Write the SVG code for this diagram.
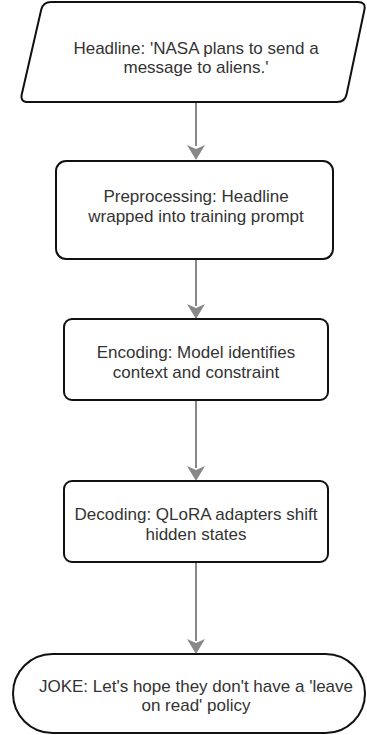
<svg xmlns="http://www.w3.org/2000/svg" width="367" height="735" viewBox="0 0 367 735">
<defs>
<style>
.node{fill:#fff;stroke:#111;stroke-width:2}
.lbl{font-family:"Liberation Sans",Arial,sans-serif;font-size:17px;fill:#333;text-anchor:middle}
.edge{stroke:#888;stroke-width:2;fill:none}
.head{fill:#888}
</style>
</defs>
<rect width="367" height="735" fill="#fff"/>
<g id="connectors">
<path class="edge" d="M196,103 L196,146"/>
<polygon class="head" points="187,145 196,160 205,145 196,149"/>
<path class="edge" d="M196,260 L196,306"/>
<polygon class="head" points="187,304 196,319 205,304 196,308"/>
<path class="edge" d="M196,401 L196,468"/>
<polygon class="head" points="187,466 196,481 205,466 196,470"/>
<path class="edge" d="M196,563 L196,641"/>
<polygon class="head" points="187,639 196,654 205,639 196,643"/>
</g>
<g id="headline">
<path class="node" d="M51,2 L358,2 Q366,2 364.4,9.8 L346.6,94.2 Q345,102 337,102 L28,102 Q20,102 21.8,94.2 L41.2,9.8 Q43,2 51,2 Z"/>
<text class="lbl" x="196" y="54">Headline: 'NASA plans to send a</text>
<text class="lbl" x="196" y="73">message to aliens.'</text>
</g>
<g id="preprocessing">
<rect class="node" x="56" y="161" width="277" height="98" rx="10"/>
<text class="lbl" x="196" y="202">Preprocessing: Headline</text>
<text class="lbl" x="196" y="222">wrapped into training prompt</text>
</g>
<g id="encoding">
<rect class="node" x="64" y="319" width="264" height="81" rx="8"/>
<text class="lbl" x="196" y="358">Encoding: Model identifies</text>
<text class="lbl" x="196" y="378">context and constraint</text>
</g>
<g id="decoding">
<rect class="node" x="64" y="481" width="264" height="81" rx="8"/>
<text class="lbl" x="196" y="520">Decoding: QLoRA adapters shift</text>
<text class="lbl" x="196" y="540">hidden states</text>
</g>
<g id="joke">
<rect class="node" x="13" y="654" width="352" height="79" rx="39.5"/>
<text class="lbl" x="196" y="692">JOKE: Let's hope they don't have a 'leave</text>
<text class="lbl" x="196" y="711">on read' policy</text>
</g>
</svg>
